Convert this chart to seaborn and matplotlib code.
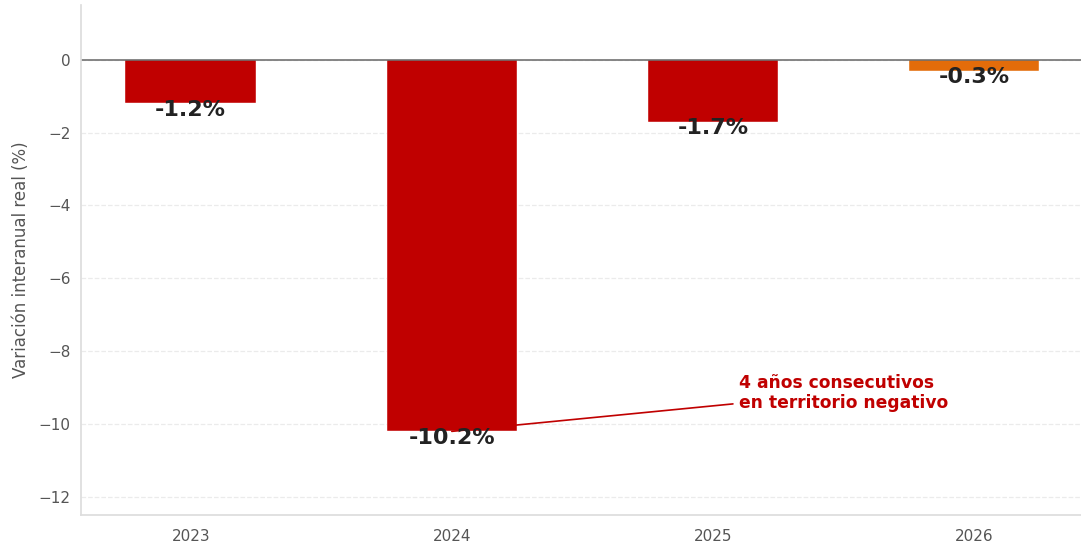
import matplotlib
matplotlib.use('Agg')
import matplotlib.pyplot as plt
import pandas as pd
import seaborn as sns

years = ['2023', '2024', '2025', '2026']
variacion = [-1.2, -10.2, -1.7, -0.3]
colores = ['#C00000', '#C00000', '#C00000', '#E36C0A']
etiquetas = ['-1.2%', '-10.2%', '-1.7%', '-0.3%']
nota = '4 años consecutivos\nen territorio negativo'


if __name__ == '__main__':
    sns.set_theme(style='white', context='notebook')
    plt.rcParams['font.family'] = ['DejaVu Sans']
    df = pd.DataFrame({'year': years, 'var': variacion})

    fig, ax = plt.subplots(figsize=(10.81, 5.51), dpi=100)
    sns.barplot(data=df, x='year', y='var', hue='year', palette=colores,
                width=0.5, legend=False, ax=ax, saturation=1,
                edgecolor='white', linewidth=0.3)

    ax.axhline(0, color='#666666', lw=1.1, zorder=1)
    ax.yaxis.grid(True, ls='--', color='#ebebeb', lw=0.9)
    ax.set_axisbelow(True)

    for i, (v, t) in enumerate(zip(variacion, etiquetas)):
        ax.text(i, v - 0.17, t, ha='center', va='center', fontsize=16,
                fontweight='bold', color='#222222', zorder=5)

    ax.annotate(nota, xy=(1, -10.2), xytext=(2.1, -9.15),
                ha='left', va='center', fontsize=12.3, fontweight='bold',
                color='#C00000',
                arrowprops=dict(arrowstyle='-', color='#C00000', lw=1.2,
                                shrinkA=2, shrinkB=0))

    ax.set_ylim(-12.5, 1.5)
    ax.set_xlim(-0.42, 3.41)
    ax.set_yticks([0, -2, -4, -6, -8, -10, -12])
    ax.set_xlabel('')
    ax.set_ylabel('Variación interanual real (%)', fontsize=12, color='#555555',
                  labelpad=6)
    ax.tick_params(axis='both', labelsize=11, colors='#555555', length=4,
                   color='#999999', width=0.8)
    ax.tick_params(axis='x', pad=6)
    sns.despine(ax=ax)
    for s in ['left', 'bottom']:
        ax.spines[s].set_color('#dddddd')

    fig.subplots_adjust(left=0.075, right=1.0, top=0.991, bottom=0.065)
    fig.savefig('out.png', dpi=100)
